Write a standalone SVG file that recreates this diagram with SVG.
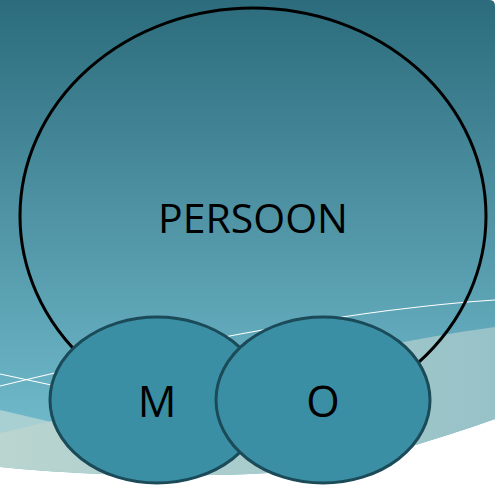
<svg xmlns="http://www.w3.org/2000/svg" width="498" height="486" viewBox="0 0 498 486">
  <defs>
    <linearGradient id="bg" x1="0" y1="0" x2="0" y2="1">
      <stop offset="0" stop-color="#2c6c7c"/>
      <stop offset="0.45" stop-color="#4f93a4"/>
      <stop offset="0.85" stop-color="#6bb5c7"/>
      <stop offset="1" stop-color="#72bccc"/>
    </linearGradient>
    <linearGradient id="band" x1="0" y1="0" x2="1" y2="0">
      <stop offset="0" stop-color="#bad5d0"/>
      <stop offset="1" stop-color="#97c2c8"/>
    </linearGradient>
    <style>
      .line { fill: none; stroke: #ffffff; stroke-width: 1.2; }
      .small { fill: #3a8fa5; stroke: #1b4a58; stroke-width: 3; }
      .lbl { font-family: "Open Sans", "DejaVu Sans", sans-serif; fill: #000000; text-anchor: middle; }
    </style>
  </defs>
  <g id="background">
    <path d="M0,0 H490 Q495,0 495,6 V419 C440,438 350,470 250,474 C150,478 60,473 0,467 Z" fill="url(#bg)"/>
    <path d="M0,410 L60,424 L90,440 L0,440 Z" fill="#a8cfd2"/>
    <path d="M0,433 C150,400 330,350 495,327 V419 C440,438 350,470 250,474 C150,478 60,473 0,467 Z" fill="url(#band)"/>
    <path class="line" d="M0,386 Q300,313 495,300"/>
    <path class="line" d="M0,374 L70,389"/>
  </g>
  <g id="persoon">
    <ellipse cx="253" cy="216" rx="233" ry="208" fill="none" stroke="#000000" stroke-width="3"/>
    <text class="lbl" x="253" y="233" font-size="41">PERSOON</text>
  </g>
  <g id="connectors"></g>
  <g id="m">
    <ellipse class="small" cx="157" cy="400" rx="107" ry="83"/>
    <text class="lbl" x="157" y="417" font-size="43">M</text>
  </g>
  <g id="o">
    <ellipse class="small" cx="323" cy="400" rx="107" ry="83"/>
    <text class="lbl" x="323" y="417" font-size="43">O</text>
  </g>
</svg>
